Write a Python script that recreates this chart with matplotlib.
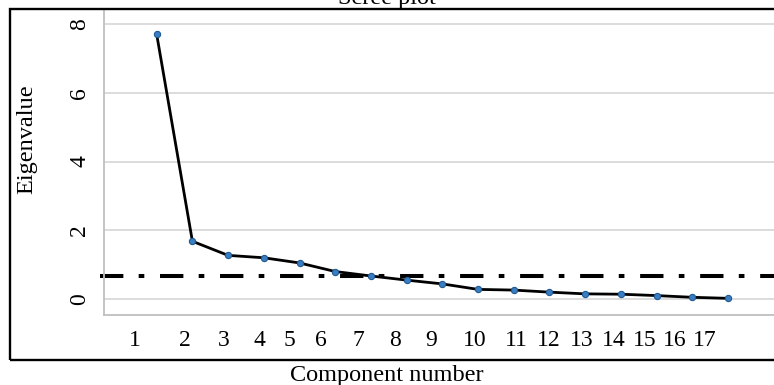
import matplotlib
matplotlib.use('Agg')
import matplotlib.pyplot as plt
from matplotlib.patches import Rectangle

# --- DATA ---
components = list(range(1, 18))
eigenvalues = [7.70, 1.68, 1.27, 1.20, 1.05, 0.80, 0.67, 0.55, 0.44,
               0.28, 0.26, 0.20, 0.15, 0.14, 0.10, 0.05, 0.02]
cutoff = 0.68
tick_labels = [str(c) for c in components]
# label positions as they sit (slightly off) in the source picture
tick_pos = [0.39, 1.79, 2.87, 3.89, 4.73, 5.59, 6.65, 7.68, 8.70,
            9.92, 11.06, 11.99, 12.90, 13.79, 14.68, 15.52, 16.36]
y_ticks = [0, 2, 4, 6, 8]

plt.rcParams['font.family'] = ['Liberation Serif', 'DejaVu Serif']

fig = plt.figure(figsize=(7.74, 3.85), dpi=100)
ax = fig.add_axes([104/774, 70/385, 1 - 104/774, (315 - 11)/385])

ax.set_xlim(-0.476, 18.29)
ax.set_ylim(-0.465, 8.38)

# gridlines
for v in y_ticks:
    ax.axhline(v, color='#d9d9d9', lw=1.3, zorder=1)

# cutoff line
ax.plot([-0.6, 19], [cutoff, cutoff], color='black', lw=2.9,
        dashes=(5.8, 3.8, 1.4, 3.9), dash_capstyle='butt',
        clip_on=False, zorder=2)

# scree line
ax.plot(components, eigenvalues, color='black', lw=2.0, zorder=3)
ax.plot(components, eigenvalues, ls='none', marker='o', ms=4.5,
        mfc='#3a7dc0', mec='#1f5a94', mew=0.8, zorder=4)

for s in ['top', 'right']:
    ax.spines[s].set_visible(False)
for s in ['left', 'bottom']:
    ax.spines[s].set_color('#bfbfbf')
    ax.spines[s].set_linewidth(1.3)

ax.set_yticks(y_ticks)
ax.set_yticklabels([str(v) for v in y_ticks], rotation=90, va='center')
ax.set_xticks(tick_pos)
ax.set_xticklabels(tick_labels)
ax.tick_params(axis='x', length=0, pad=11, labelsize=17)
ax.tick_params(axis='y', length=0, pad=10, labelsize=17)

# outer frame
fig.patches.append(Rectangle((10/774, 25/385), 1.0, (360 - 9)/385,
                             transform=fig.transFigure, fill=False,
                             edgecolor='black', lw=1.7))

fig.text(0.5, 381/385, 'Scree plot', ha='center', va='baseline', fontsize=17.5)
fig.text(0.5, 10/385, 'Component number', ha='center', va='center', fontsize=17.5)
fig.text(27/774, (385 - 139)/385, 'Eigenvalue', rotation=90,
         ha='center', va='center', fontsize=17.5)

fig.savefig('out.png', dpi=100)
